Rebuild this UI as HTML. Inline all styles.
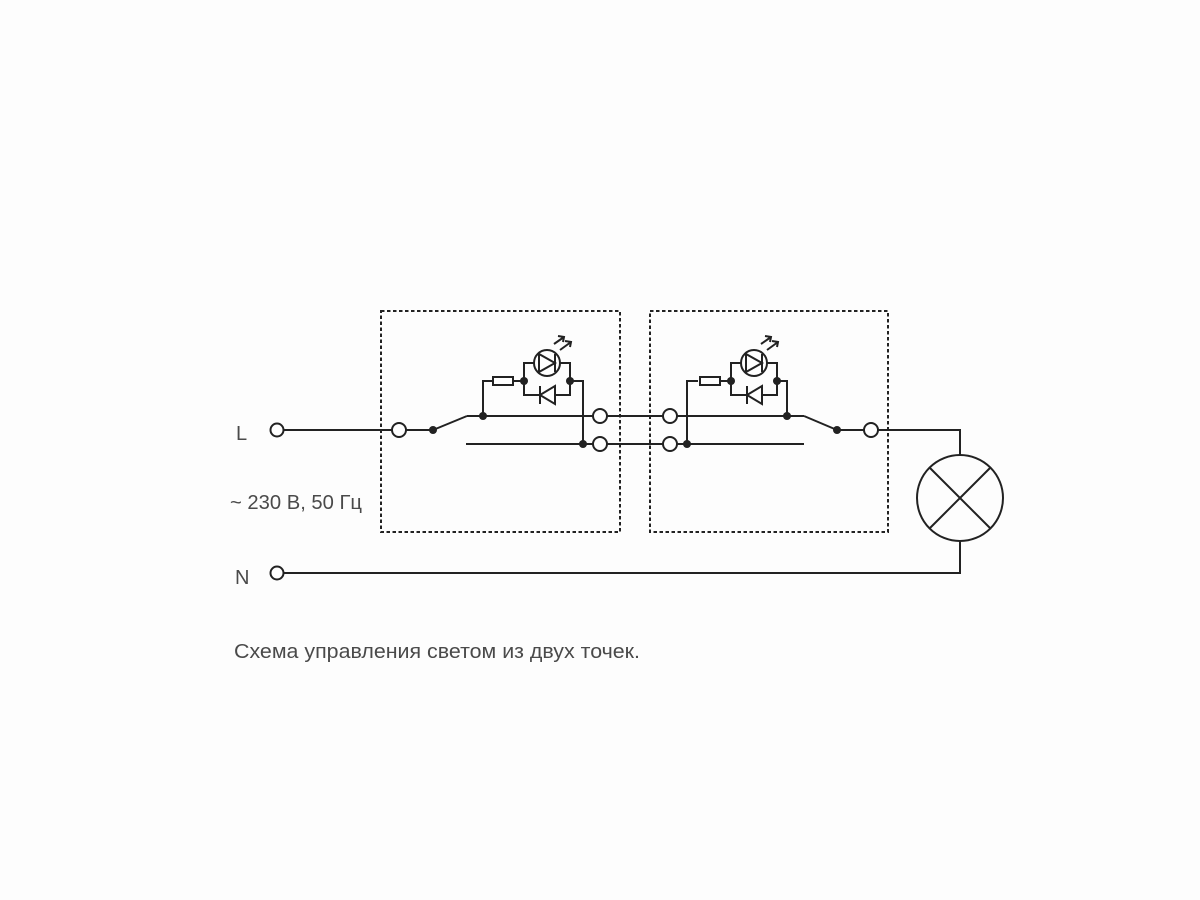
<!DOCTYPE html>
<html><head><meta charset="utf-8"><style>
html,body{margin:0;padding:0;background:#fdfdfd;}
svg{display:block;}
text{font-family:"Liberation Sans",sans-serif;fill:#4a4a4a;}
</style></head><body>
<svg width="1200" height="900" viewBox="0 0 1200 900" xmlns="http://www.w3.org/2000/svg">
<rect width="1200" height="900" fill="#fdfdfd"/>
<defs>
<g id="led" fill="none" stroke="#222" stroke-width="2">
  <rect x="-31" y="-4" width="20" height="8" fill="#fff"/>
  <line x1="-11" y1="0" x2="0" y2="0"/>
  <polyline points="0,0 0,-18 46,-18 46,0"/>
  <polyline points="0,0 0,14 46,14 46,0"/>
  <circle cx="23" cy="-18" r="13" fill="#fff"/>
  <polygon points="15,-27 15,-9 31,-18" />
  <line x1="31" y1="-27" x2="31" y2="-9"/>
  <polygon points="31,5 31,23 16,14" fill="#fff"/>
  <line x1="16" y1="5" x2="16" y2="23"/>
  <line x1="30" y1="-37" x2="40" y2="-44"/>
  <polyline points="34,-45 40,-44 39,-39"/>
  <line x1="36" y1="-31" x2="47" y2="-39"/>
  <polyline points="41,-40 47,-39 46,-34"/>
  <circle cx="0" cy="0" r="4" fill="#222" stroke="none"/>
  <circle cx="46" cy="0" r="4" fill="#222" stroke="none"/>
</g>
</defs>
<g fill="none" stroke="#222" stroke-width="2">
  <rect x="381" y="311" width="239" height="221" stroke-dasharray="3.5,2.5"/>
  <rect x="650" y="311" width="238" height="221" stroke-dasharray="3.5,2.5"/>
  <line x1="284" y1="430" x2="392" y2="430"/>
  <line x1="406" y1="430" x2="433" y2="430"/>
  <line x1="433" y1="430" x2="467" y2="416"/>
  <line x1="467" y1="416" x2="593" y2="416"/>
  <line x1="466" y1="444" x2="593" y2="444"/>
  <polyline points="483,416 483,381 493,381"/>
  <polyline points="570,381 583,381 583,444"/>
  <line x1="607" y1="416" x2="663" y2="416"/>
  <line x1="607" y1="444" x2="663" y2="444"/>
  <line x1="677" y1="416" x2="804" y2="416"/>
  <line x1="677" y1="444" x2="804" y2="444"/>
  <polyline points="687,444 687,381 698,381"/>
  <polyline points="777,381 787,381 787,416"/>
  <line x1="804" y1="416" x2="837" y2="430"/>
  <line x1="837" y1="430" x2="864" y2="430"/>
  <polyline points="878,430 960,430 960,455"/>
  <polyline points="960,541 960,573 284,573"/>
  <circle cx="960" cy="498" r="43"/>
  <line x1="930" y1="468" x2="990" y2="528"/>
  <line x1="990" y1="468" x2="930" y2="528"/>
  <circle cx="277" cy="430" r="6.5" fill="#fff"/>
  <circle cx="277" cy="573" r="6.5" fill="#fff"/>
  <circle cx="399" cy="430" r="7" fill="#fff"/>
  <circle cx="600" cy="416" r="7" fill="#fff"/>
  <circle cx="600" cy="444" r="7" fill="#fff"/>
  <circle cx="670" cy="416" r="7" fill="#fff"/>
  <circle cx="670" cy="444" r="7" fill="#fff"/>
  <circle cx="871" cy="430" r="7" fill="#fff"/>
</g>
<g fill="#222">
  <circle cx="433" cy="430" r="4"/>
  <circle cx="483" cy="416" r="4"/>
  <circle cx="583" cy="444" r="4"/>
  <circle cx="687" cy="444" r="4"/>
  <circle cx="787" cy="416" r="4"/>
  <circle cx="837" cy="430" r="4"/>
</g>
<use href="#led" x="524" y="381"/>
<use href="#led" x="731" y="381"/>
<text x="236" y="440" font-size="20">L</text>
<text x="230" y="509" font-size="20" textLength="132" lengthAdjust="spacingAndGlyphs">~ 230 В, 50 Гц</text>
<text x="235" y="584" font-size="20">N</text>
<text x="234" y="658" font-size="20" textLength="406" lengthAdjust="spacingAndGlyphs">Схема управления светом из двух точек.</text>
</svg>
</body></html>
